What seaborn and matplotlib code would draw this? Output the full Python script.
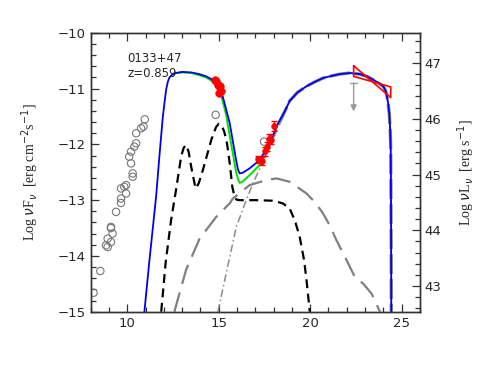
import numpy as np
import pandas as pd
import matplotlib
matplotlib.use("Agg")
import matplotlib.pyplot as plt
import seaborn as sns
from matplotlib.ticker import MultipleLocator

# ---------------- data ----------------
source_name = "0133+47"
redshift_label = "z=0.859"
lum_offset = 57.54  # log nuL_nu = log nuF_nu + offset

# archival radio / IR (open gray circles)
arch_x = [8.15, 8.52, 8.83, 8.92, 8.92, 9.10, 9.10, 9.19, 9.10, 9.38, 9.65, 9.65, 9.93,
          9.83, 9.65, 9.93, 10.29, 10.29, 10.20, 10.10, 10.20, 10.38, 10.48, 10.48,
          10.75, 10.88, 10.95, 14.83, 17.48]
arch_y = [-14.66, -14.27, -13.81, -13.84, -13.69, -13.75, -13.48, -13.60, -13.50, -13.21,
          -13.05, -12.97, -12.88, -12.76, -12.79, -12.73, -12.58, -12.52, -12.34, -12.22,
          -12.13, -12.04, -11.98, -11.80, -11.71, -11.68, -11.55, -11.47, -11.95]

# optical/UV (red)
opt_x = [14.77, 14.85, 14.95, 15.00, 15.08, 15.13, 15.04]
opt_y = [-10.84, -10.87, -10.93, -10.95, -10.96, -11.05, -11.07]

# X-ray (red with error bars)
xr_x = [17.12, 17.36, 17.51, 17.62, 17.77, 17.88, 18.00]
xr_y = [-12.27, -12.30, -12.12, -12.04, -11.90, -11.92, -11.67]
xr_err = [0.07, 0.07, 0.08, 0.08, 0.08, 0.08, 0.09]

# gamma-ray butterfly (bowtie outline)
bt_x = [22.38, 22.38, 24.41, 24.41, 22.38]
bt_y = [-10.59, -10.78, -10.97, -11.16, -10.59]

# upper limit
ul_x = 22.38
ul_top = -10.90
ul_bottom = -11.41

# total model (blue)
tot_x = [10.93, 11.20, 11.57, 11.75, 11.94, 12.05, 12.12, 12.21, 12.30, 12.45, 12.66, 13.00,
         13.50, 13.94, 14.31, 14.60, 14.85, 15.04, 15.20, 15.41, 15.60, 15.80, 15.96, 16.05,
         16.14, 16.30, 16.69, 17.24, 17.79, 18.25, 18.61, 18.88, 19.30, 19.79, 20.25, 20.71,
         21.20, 21.62, 22.17, 22.72, 23.10, 23.45, 23.75, 24.00, 24.12, 24.19, 24.27, 24.33,
         24.38, 24.41, 24.43, 24.44]
tot_y = [-15.00, -14.10, -12.94, -12.22, -11.50, -11.20, -11.02, -10.88, -10.80, -10.75,
         -10.72, -10.70, -10.71, -10.74, -10.78, -10.83, -10.90, -10.99, -11.12, -11.38,
         -11.62, -12.00, -12.30, -12.45, -12.52, -12.51, -12.43, -12.28, -11.98, -11.62,
         -11.41, -11.22, -11.07, -10.96, -10.88, -10.81, -10.77, -10.74, -10.72, -10.74,
         -10.78, -10.84, -10.90, -10.96, -11.03, -11.12, -11.27, -11.45, -11.75, -12.10,
         -13.50, -15.00]

# green model
grn_x = [12.66, 13.00, 13.50, 13.94, 14.31, 14.60, 14.85, 15.04, 15.20, 15.41, 15.60, 15.77,
         15.95, 16.05, 16.14, 16.30, 16.69, 17.24, 17.45]
grn_y = [-10.72, -10.71, -10.72, -10.76, -10.80, -10.86, -10.94, -11.05, -11.20, -11.48,
         -11.85, -12.16, -12.50, -12.62, -12.69, -12.67, -12.55, -12.37, -12.22]

# disk + torus + corona (black dashed)
dsk_x = [11.85, 12.10, 12.39, 12.66, 12.94, 13.08, 13.21, 13.35, 13.49, 13.73, 13.90, 14.13,
         14.59, 14.85, 15.00, 15.15, 15.30, 15.45, 15.60, 15.74, 15.87, 15.97, 16.14, 17.06,
         17.97, 18.20, 18.52, 18.88, 19.16, 19.43, 19.67, 19.80, 19.98]
dsk_y = [-15.00, -14.10, -13.36, -12.82, -12.22, -12.06, -12.01, -12.13, -12.40, -12.79,
         -12.70, -12.46, -11.92, -11.69, -11.63, -11.66, -11.77, -11.98, -12.34, -12.76,
         -12.95, -12.99, -13.00, -13.00, -13.01, -13.03, -13.06, -13.15, -13.36, -13.66,
         -14.08, -14.43, -15.00]

# SSC (gray long dashed)
ssc_x = [12.57, 13.21, 13.95, 14.86, 15.59, 15.77, 16.69, 17.60, 18.16, 18.88, 19.80, 20.30,
         20.71, 21.10, 21.44, 22.00, 22.45, 22.91, 23.37, 23.82]
ssc_y = [-15.00, -14.25, -13.69, -13.30, -13.06, -12.97, -12.73, -12.64, -12.61, -12.67,
         -12.88, -13.05, -13.24, -13.47, -13.72, -14.08, -14.38, -14.50, -14.68, -15.00]

# EC (gray dash-dot)
ec_x = [14.95, 15.60, 15.96, 16.50, 16.87, 17.33, 17.70, 18.16, 18.61, 18.88, 19.30, 19.79,
        20.25, 20.71, 21.20, 21.62, 22.17, 22.72, 23.10, 23.45, 23.75, 24.00, 24.12, 24.19,
        24.27, 24.33, 24.38, 24.41, 24.43, 24.44]
ec_y = [-15.00, -14.02, -13.48, -13.00, -12.70, -12.37, -12.06, -11.72, -11.41, -11.22,
        -11.07, -10.96, -10.88, -10.81, -10.77, -10.74, -10.72, -10.74, -10.78, -10.84,
        -10.90, -10.96, -11.03, -11.12, -11.27, -11.45, -11.75, -12.10, -13.50, -15.00]

# ---------------- plot ----------------
sns.set_style("ticks")
plt.rcParams['font.family'] = ['DejaVu Sans']

fig = plt.figure(figsize=(4.91, 3.82), dpi=100)
ax = fig.add_axes([0.185, 0.184, 0.670, 0.730])

def line(x, y, **kw):
    sns.lineplot(x=x, y=y, ax=ax, sort=False, estimator=None, legend=False, **kw)

line(dsk_x, dsk_y, color="black", lw=1.6, dashes=(4, 2.5))
line(ssc_x, ssc_y, color="#808080", lw=1.6, dashes=(9, 4))
# EC: thin dash-dot everywhere, wider grey underlay where it dominates the total
line(ec_x, ec_y, color="#8c8c8c", lw=1.1, dashes=(5, 2, 1, 2))
line(ec_x[6:], ec_y[6:], color="#8c8c8c", lw=2.4, dashes=(6, 1.5))
line(grn_x, grn_y, color="#00e000", lw=1.4)
line(tot_x, tot_y, color="#0000ee", lw=1.3)

sns.scatterplot(x=arch_x, y=arch_y, ax=ax, marker="o", s=28, facecolor="none",
                edgecolor="#777777", linewidth=0.8, legend=False, zorder=3)

ax.errorbar(xr_x, xr_y, yerr=xr_err, xerr=0.05, fmt="none", ecolor="red",
            elinewidth=0.9, capsize=2, zorder=4)
sns.scatterplot(x=xr_x, y=xr_y, ax=ax, color="red", s=18, edgecolor="red",
                legend=False, zorder=5)
sns.scatterplot(x=opt_x, y=opt_y, ax=ax, color="red", s=30, edgecolor="red",
                legend=False, zorder=5)

line(bt_x, bt_y, color="red", lw=1.2)

ax.plot([ul_x - 0.2, ul_x + 0.2], [ul_top, ul_top], color="#999999", lw=1.0)
ax.annotate("", xy=(ul_x, ul_bottom), xytext=(ul_x, ul_top),
            arrowprops=dict(arrowstyle="-|>", color="#999999", lw=1.0,
                            mutation_scale=9, shrinkA=0, shrinkB=0))

ax.set_xlim(8, 26)
ax.set_ylim(-15, -10)
ax.xaxis.set_major_locator(MultipleLocator(5))
ax.xaxis.set_minor_locator(MultipleLocator(1))
ax.yaxis.set_major_locator(MultipleLocator(1))
ax.yaxis.set_minor_locator(MultipleLocator(0.2))
ax.tick_params(which="both", direction="in", top=True, right=False, labelsize=9.5,
               color="#333333", width=0.9)
ax.tick_params(which="major", length=6)
ax.tick_params(which="minor", length=3.5)
for s in ax.spines.values():
    s.set_linewidth(1.0)
    s.set_color("#333333")

ax.set_ylabel(r"Log $\nu$F$_\nu$  [erg cm$^{-2}$s$^{-1}$]", fontsize=10,
              family="Liberation Serif", labelpad=12)
ax.set_xlabel("")

ax.text(0.112, 0.896, source_name, transform=ax.transAxes, fontsize=8.5)
ax.text(0.112, 0.842, redshift_label, transform=ax.transAxes, fontsize=8.5)

ax2 = ax.twinx()
ax2.set_ylim(-15 + lum_offset, -10 + lum_offset)
ax2.yaxis.set_major_locator(MultipleLocator(1))
ax2.yaxis.set_minor_locator(MultipleLocator(0.2))
ax2.tick_params(which="both", direction="in", labelsize=9.5, color="#333333", width=0.9)
ax2.tick_params(which="major", length=6)
ax2.tick_params(which="minor", length=3.5)
ax2.set_ylabel(r"Log $\nu$L$_\nu$  [erg s$^{-1}$]", fontsize=10,
               family="Liberation Serif", labelpad=10)
for s in ax2.spines.values():
    s.set_linewidth(1.0)
    s.set_color("#333333")

fig.savefig("out.png", dpi=100)
